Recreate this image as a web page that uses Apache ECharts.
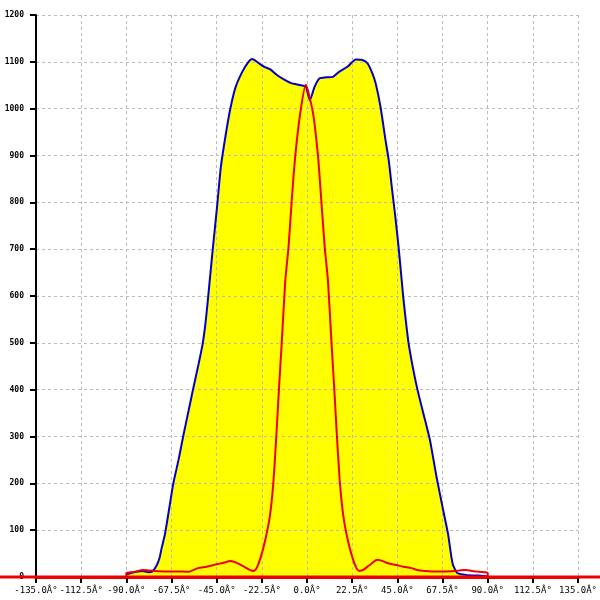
<!DOCTYPE html>
<html><head><meta charset="utf-8">
<script src="https://cdn.jsdelivr.net/npm/echarts@6/dist/echarts.min.js"></script>
<style>html,body{margin:0;padding:0;background:#fff}#c{width:600px;height:600px}</style>
</head><body><div id="c"></div>
<script>
var xTickValues = [-135, -112.5, -90, -67.5, -45, -22.5, 0, 22.5, 45, 67.5, 90, 112.5, 135];
var xTickLabels = ['-135.0Â°','-112.5Â°','-90.0Â°','-67.5Â°','-45.0Â°','-22.5Â°','0.0Â°','22.5Â°','45.0Â°','67.5Â°','90.0Â°','112.5Â°','135.0Â°'];
var yTickLabels = ['0','100','200','300','400','500','600','700','800','900','1000','1100','1200'];

var blueX = [-90,-88,-85,-82,-79,-77,-75,-73.5,-72.5,-70.7,-68.5,-66.6,-64,-61.7,-59,-56.8,-54,-51.9,-50.5,-49.4,-47,-44.8,-42.9,-40.4,-38,-35.5,-32.2,-29.5,-27.3,-24,-20.7,-18.3,-15,-10.9,-7.6,-5.2,-1.9,-0.5,1.4,3.8,6.3,9.6,12.9,16.1,20.3,24.3,27.6,30.1,32.6,34.2,36.6,39.1,40.7,42.4,44,45.6,47.3,48.1,50.6,54.7,58.8,61.2,64.5,67.8,70.2,71.9,72.7,74,75,76.8,80,85,90];
var blueY = [6,8,11,13,10,12,24,40,60,93,150,200,250,300,355,400,455,500,545,591,698,791,876,947,1004,1047,1079,1098,1106,1097,1088,1084,1072,1061,1054,1052,1049,1047,1018,1047,1065,1067,1068,1079,1090,1105,1104,1097,1075,1054,1004,933,890,826,769,705,627,591,499,406,335,293,214,143,93,43,26,14,8,6,4,3,1];

var redX = [-135,-90,-90,-88,-85,-82,-79,-76,-70,-65,-59.3,-54.3,-50,-46.1,-42,-38,-35,-31.4,-28,-26.5,-25,-23,-20.8,-18.5,-16.8,-15.3,-14,-12.6,-10.8,-9.2,-7.6,-5.9,-3.4,-0.6,3,5.5,7.1,8.8,10.4,12.2,13.6,14.9,16.4,18.1,20.3,22.5,24.5,26,28,31,35,37,40,45,48,52,55,58.8,62,68,73.5,76,79.3,82,86,90,90,135];
var redY = [0,0,9,10,12,15,14,13,12,12,11,19,22,26,30,34,30,22,14,13,20,43,79,130,200,300,400,500,634,705,805,897,990,1051,990,897,805,705,634,500,400,300,200,130,79,43,20,13,15,25,37,35,30,25,22,19,15,13,12,12,13,14,15,13,11,9,0,0];

function pairs(xs, ys){ return xs.map(function(x,i){return [x, ys[i]];}); }
var blueData = pairs(blueX, blueY);
var redData = pairs(redX, redY);

var chart = echarts.init(document.getElementById('c'), null, {renderer:'canvas'});
var gridDash = {color:'#bbbbbb', width:1, type:[3,3]};
chart.setOption({
  animation:false,
  backgroundColor:'#ffffff',
  grid:{left:36, right:15, top:15, bottom:23, containLabel:false},
  xAxis:{
    type:'value', min:-135, max:135, interval:22.5, z:2,
    axisLine:{show:true, onZero:false, lineStyle:{color:'#ee0000', width:3}},
    axisTick:{show:true, length:6, lineStyle:{color:'#000', width:2}},
    axisLabel:{margin:9, fontFamily:'DejaVu Sans Mono', fontSize:9, color:'#000',
      formatter:function(v){ var i = xTickValues.indexOf(v); return i>=0 ? xTickLabels[i] : ''; }},
    splitLine:{show:true, lineStyle:gridDash}
  },
  yAxis:{
    type:'value', min:0, max:1200, interval:100, z:2,
    axisLine:{show:true, onZero:false, lineStyle:{color:'#000', width:2}},
    axisTick:{show:true, length:6, lineStyle:{color:'#000', width:2}},
    axisLabel:{margin:12, fontFamily:'DejaVu Sans Mono', fontSize:8, fontWeight:'bold', color:'#000',
      formatter:function(v){ return yTickLabels[Math.round(v/100)]; }},
    splitLine:{show:true, lineStyle:gridDash}
  },
  series:[
    {type:'line', data:blueData, z:1, symbol:'none', smooth:0.2, lineStyle:{width:0, opacity:0},
     areaStyle:{color:'#ffff00', opacity:1}, silent:true},
    {type:'line', data:blueData, z:3, symbol:'none', smooth:0.2, lineStyle:{color:'#0000cc', width:2}},
    {type:'line', data:redData, z:4, symbol:'none', smooth:0.2, lineStyle:{color:'#ee0000', width:2}}
  ]
});
var y0 = chart.convertToPixel({gridIndex:0}, [0,0])[1];
chart.setOption({graphic:[
  {type:'line', shape:{x1:0, y1:y0, x2:600, y2:y0}, style:{stroke:'#ee0000', lineWidth:3}, z:5}
]});
</script></body></html>
